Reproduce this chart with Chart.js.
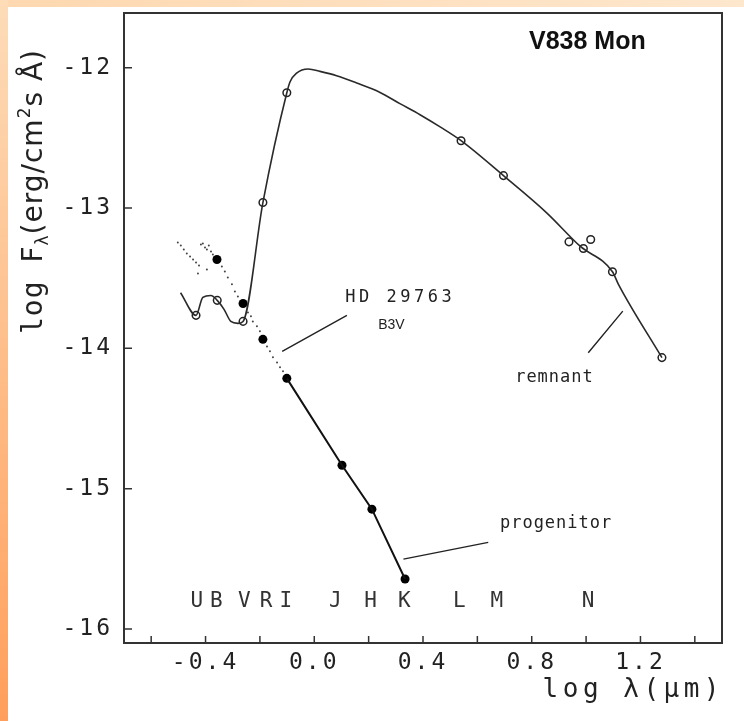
<!DOCTYPE html>
<html>
<head>
<meta charset="utf-8">
<script src="https://cdn.jsdelivr.net/npm/chart.js@4.4.1/dist/chart.umd.min.js"></script>
<style>
  body { margin: 0; background: #fff; }
  #wrap { position: relative; width: 744px; height: 721px; background: #fff; overflow: hidden; }
  #edgeTop { position: absolute; left: 0; top: 0; width: 744px; height: 7px; background: linear-gradient(to right, #fdd8b0, #fde7cd); }
  #edgeLeft { position: absolute; left: 0; top: 0; width: 8px; height: 721px; background: linear-gradient(to bottom, #fddcb8, #ff9f5b); }
  canvas { position: absolute; left: 0; top: 0; }
</style>
</head>
<body>
<div id="wrap">
  <div id="edgeTop"></div>
  <div id="edgeLeft"></div>
  <canvas id="sed" width="744" height="721"></canvas>
</div>
<script>
// log lambda (um) vs log F_lambda
const hdSpectrum = [
  [-0.502, -13.246], [-0.491, -13.267], [-0.480, -13.295], [-0.469, -13.324],
  [-0.457, -13.345], [-0.446, -13.367], [-0.435, -13.388], [-0.424, -13.409],
  [-0.417, -13.260], [-0.410, -13.253], [-0.402, -13.281], [-0.395, -13.295],
  [-0.388, -13.267], [-0.380, -13.310], [-0.373, -13.331], [-0.428, -13.466],
  [-0.395, -13.438], [-0.340, -13.416], [-0.329, -13.452], [-0.318, -13.495],
  [-0.303, -13.544], [-0.292, -13.594], [-0.281, -13.630], [-0.244, -13.744],
  [-0.233, -13.772], [-0.226, -13.808], [-0.211, -13.843], [-0.200, -13.879],
  [-0.174, -13.986], [-0.163, -14.021], [-0.152, -14.064], [-0.137, -14.100],
  [-0.126, -14.135], [-0.115, -14.164],
];

const remnantCurve = [
  [-0.492, -13.604], [-0.435, -13.765], [-0.410, -13.637], [-0.380, -13.623],
  [-0.357, -13.658], [-0.332, -13.722], [-0.307, -13.808], [-0.281, -13.822],
  [-0.262, -13.808], [-0.189, -12.961], [-0.101, -12.178], [-0.089, -12.100],
  [-0.065, -12.038], [-0.022, -12.009], [0.021, -12.026], [0.082, -12.057],
  [0.156, -12.109], [0.242, -12.176], [0.315, -12.256], [0.389, -12.335],
  [0.463, -12.422], [0.540, -12.520], [0.696, -12.769], [0.855, -13.034],
  [0.978, -13.272], [1.097, -13.454], [1.119, -13.544], [1.279, -14.066],
];

const remnantPoints = [
  [-0.435, -13.765], [-0.357, -13.658], [-0.262, -13.808], [-0.189, -12.961],
  [-0.101, -12.178], [0.540, -12.520], [0.696, -12.769], [0.937, -13.241],
  [0.990, -13.288], [1.017, -13.224], [1.097, -13.454], [1.279, -14.066],
];

const progenitorPoints = [
  [-0.358, -13.367], [-0.262, -13.680], [-0.189, -13.936], [-0.101, -14.214],
  [0.102, -14.833], [0.212, -15.146], [0.334, -15.644],
];

const bandNames = ["U", "B", "V", "R", "I", "J", "H", "K", "L", "M", "N"];
const bandLogLambda = [-0.432, -0.36, -0.257, -0.177, -0.105, 0.077, 0.207, 0.331, 0.534, 0.672, 1.007];

const xTickValues = [-0.6, -0.4, -0.2, 0.0, 0.2, 0.4, 0.6, 0.8, 1.0, 1.2, 1.4];
const xTickLabels = [-0.4, 0.0, 0.4, 0.8, 1.2];
const yTickValues = [-16, -15, -14, -13, -12];

// annotation placement, in data units
const notes = {
  bandY: -15.805,
  hd: { x: 0.114, y: -13.637 },
  b3v: { x: 0.235, y: -13.836 },
  remnant: { x: 0.739, y: -14.206 },
  progenitor: { x: 0.683, y: -15.246 },
  star: { x: 0.79, y: -11.815 },
  leaders: [
    [[-0.118, -14.021], [0.12, -13.765]],
    [[1.008, -14.031], [1.135, -13.735]],
    [[0.328, -15.502], [0.64, -15.383]],
  ],
};

const toXY = (arr) => arr.map(([x, y]) => ({ x, y }));
const MONO = "'DejaVu Sans Mono', monospace";
const SANS = "'DejaVu Sans', sans-serif";
const ARIAL = "'Liberation Sans', Arial, sans-serif";

const decorations = {
  id: "decorations",
  beforeDraw(chart) {
    chart.ctx.letterSpacing = "3px";
  },
  afterDraw(chart) {
    const { ctx, chartArea: a } = chart;
    const x = chart.scales.x;
    const y = chart.scales.y;
    const px = (v) => x.getPixelForValue(v);
    const py = (v) => y.getPixelForValue(v);

    ctx.save();
    ctx.letterSpacing = "0px";

    // frame
    ctx.strokeStyle = "#333";
    ctx.lineWidth = 2;
    ctx.strokeRect(a.left, a.top, a.right - a.left, a.bottom - a.top);

    // inward tick marks
    ctx.lineWidth = 1.5;
    ctx.beginPath();
    x.ticks.forEach((t) => {
      ctx.moveTo(px(t.value), a.bottom);
      ctx.lineTo(px(t.value), a.bottom - 7);
    });
    y.ticks.forEach((t) => {
      ctx.moveTo(a.left, py(t.value));
      ctx.lineTo(a.left + 8, py(t.value));
    });
    ctx.stroke();

    // leader lines
    ctx.strokeStyle = "#222";
    ctx.lineWidth = 1.4;
    ctx.beginPath();
    notes.leaders.forEach(([p, q]) => {
      ctx.moveTo(px(p[0]), py(p[1]));
      ctx.lineTo(px(q[0]), py(q[1]));
    });
    ctx.stroke();

    // band letters
    ctx.fillStyle = "#333";
    ctx.font = `21px ${MONO}`;
    ctx.textAlign = "center";
    ctx.textBaseline = "middle";
    bandNames.forEach((b, i) => ctx.fillText(b, px(bandLogLambda[i]), py(notes.bandY)));

    // labels
    ctx.textAlign = "left";
    ctx.fillStyle = "#222";
    ctx.letterSpacing = "3.5px";
    ctx.font = `17px ${MONO}`;
    ctx.fillText("HD 29763", px(notes.hd.x), py(notes.hd.y));
    ctx.letterSpacing = "1px";
    ctx.fillText("remnant", px(notes.remnant.x), py(notes.remnant.y));
    ctx.fillText("progenitor", px(notes.progenitor.x), py(notes.progenitor.y));
    ctx.letterSpacing = "0px";
    ctx.font = `14px ${ARIAL}`;
    ctx.fillText("B3V", px(notes.b3v.x), py(notes.b3v.y));
    ctx.font = `bold 25px ${ARIAL}`;
    ctx.fillStyle = "#111";
    ctx.fillText("V838 Mon", px(notes.star.x), py(notes.star.y));

    // x title
    ctx.fillStyle = "#222";
    ctx.textAlign = "right";
    ctx.letterSpacing = "4.5px";
    ctx.font = `26px ${MONO}`;
    ctx.fillText("log λ(μm)", a.right + 2, 690);

    // y title, rotated, with sub/superscripts
    ctx.translate(42, 334);
    ctx.rotate(-Math.PI / 2);
    ctx.textAlign = "left";
    ctx.textBaseline = "alphabetic";
    ctx.letterSpacing = "1px";
    const parts = [
      ["log ", `28px ${MONO}`, 0],
      ["F", `28px ${SANS}`, 0],
      ["λ", `17px ${SANS}`, 6],
      ["(erg/cm", `28px ${SANS}`, 0],
      ["2", `17px ${SANS}`, -12],
      ["s Å)", `28px ${SANS}`, 0],
    ];
    let cx = 0;
    parts.forEach(([txt, font, dy]) => {
      ctx.font = font;
      ctx.fillText(txt, cx, dy);
      cx += ctx.measureText(txt).width;
    });
    ctx.restore();
  },
};

new Chart(document.getElementById("sed"), {
  type: "scatter",
  data: {
    datasets: [
      {
        label: "HD 29763",
        data: toXY(hdSpectrum),
        pointRadius: 1,
        pointBackgroundColor: "#444",
        pointBorderWidth: 0,
        showLine: false,
      },
      {
        label: "remnant curve",
        data: toXY(remnantCurve),
        showLine: true,
        pointRadius: 0,
        borderColor: "#2a2a2a",
        borderWidth: 1.6,
        cubicInterpolationMode: "monotone",
      },
      {
        label: "progenitor line",
        data: toXY(progenitorPoints.slice(3)),
        showLine: true,
        pointRadius: 0,
        borderColor: "#111",
        borderWidth: 2,
      },
      {
        label: "remnant",
        data: toXY(remnantPoints),
        pointRadius: 3.8,
        pointBackgroundColor: "#fff",
        pointBorderColor: "#222",
        pointBorderWidth: 1.5,
      },
      {
        label: "progenitor",
        data: toXY(progenitorPoints),
        pointRadius: 4.5,
        pointBackgroundColor: "#000",
        pointBorderColor: "#000",
        pointBorderWidth: 0,
      },
    ],
  },
  options: {
    responsive: false,
    animation: false,
    events: [],
    layout: { padding: { top: 13, right: 22, left: 0, bottom: 0 } },
    plugins: { legend: { display: false }, tooltip: { enabled: false } },
    scales: {
      x: {
        type: "linear",
        min: -0.7,
        max: 1.5,
        grid: { display: false, drawTicks: false },
        border: { display: false },
        afterBuildTicks: (s) => {
          s.ticks = xTickValues.map((v) => ({ value: v }));
        },
        afterFit: (s) => {
          s.height = 78;
          s.paddingLeft = 0;
          s.paddingRight = 0;
        },
        ticks: {
          padding: 6,
          maxRotation: 0,
          minRotation: 0,
          autoSkip: false,
          color: "#222",
          font: { family: "DejaVu Sans Mono", size: 23 },
          callback: (v) =>
            xTickLabels.some((l) => Math.abs(l - v) < 1e-6) ? v.toFixed(1) : "",
        },
      },
      y: {
        type: "linear",
        min: -16.1,
        max: -11.61,
        grid: { display: false, drawTicks: false },
        border: { display: false },
        afterBuildTicks: (s) => {
          s.ticks = yTickValues.map((v) => ({ value: v }));
        },
        afterFit: (s) => {
          s.width = 124;
          s.paddingTop = 0;
          s.paddingBottom = 0;
        },
        ticks: {
          padding: 11,
          color: "#222",
          font: { family: "DejaVu Sans Mono", size: 23 },
          callback: (v) => String(v),
        },
      },
    },
  },
  plugins: [decorations],
});
</script>
</body>
</html>
